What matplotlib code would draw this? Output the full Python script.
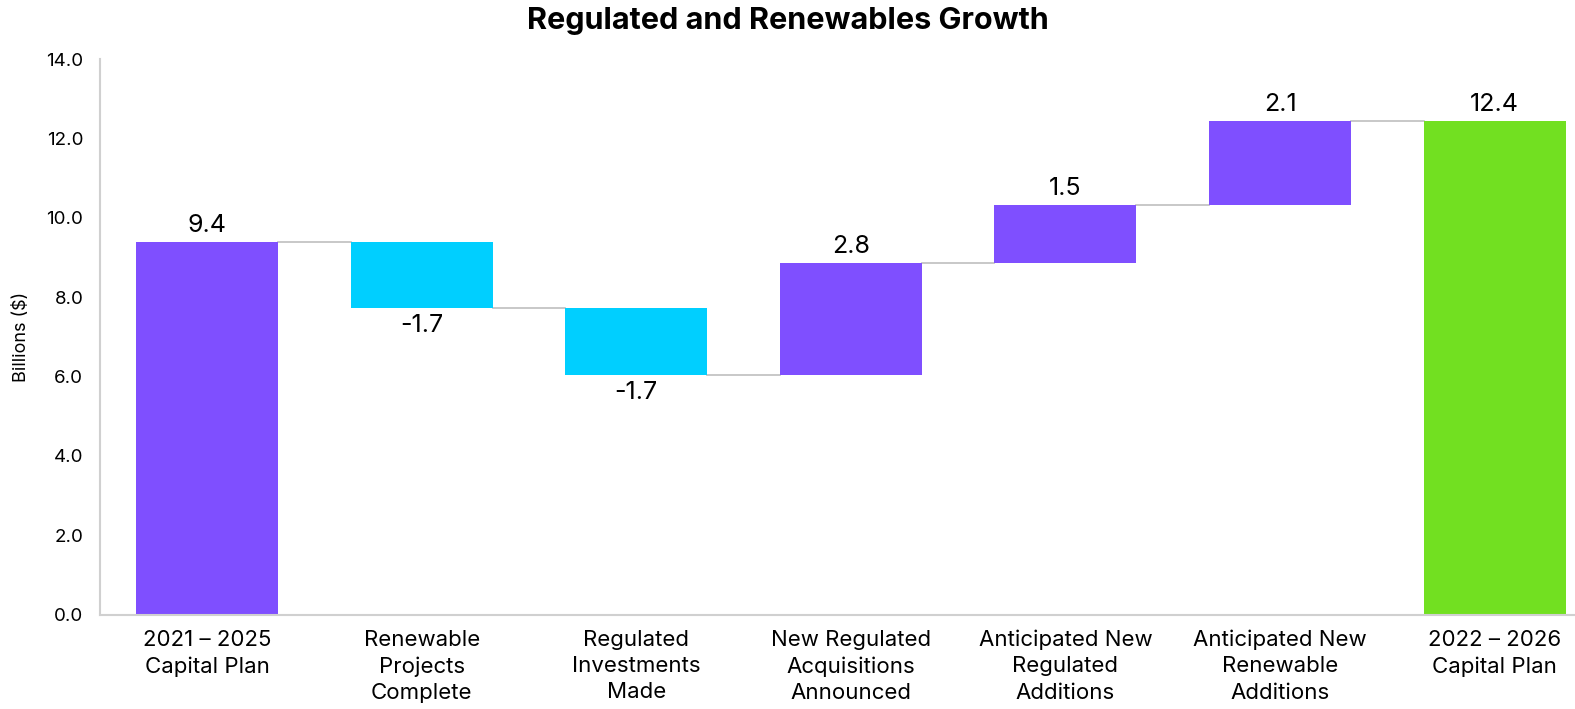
import matplotlib
matplotlib.use("Agg")
import matplotlib.pyplot as plt
import numpy as np

categories = ["2021 – 2025\nCapital Plan", "Renewable\nProjects\nComplete",
              "Regulated\nInvestments\nMade", "New Regulated\nAcquisitions\nAnnounced",
              "Anticipated New\nRegulated\nAdditions", "Anticipated New\nRenewable\nAdditions",
              "2022 – 2026\nCapital Plan"]
changes = [9.4, -1.68, -1.69, 2.83, 1.47, 2.11]
total = 12.44
bar_colors = ["#7f4fff", "#00cfff", "#00cfff", "#7f4fff", "#7f4fff", "#7f4fff", "#72e021"]

plt.rcParams['font.family'] = ['Inter', 'DejaVu Sans']

fig = plt.figure(figsize=(15.75, 7.09), dpi=100)
ax = fig.add_axes([100 / 1575, 94.4 / 709, 1475 / 1575, 555.3 / 709])

# waterfall bottoms/heights
bottoms, heights = [], []
running = 0.0
for i, c in enumerate(changes):
    if i == 0:
        bottoms.append(0.0)
        heights.append(c)
        running = c
    else:
        bottoms.append(min(running, running + c))
        heights.append(abs(c))
        running += c
bottoms.append(0.0)
heights.append(total)
tops = [b + h for b, h in zip(bottoms, heights)]
levels = list(np.cumsum(changes)) + [total]

x = np.arange(len(categories))
w = 0.662
ax.bar(x, heights, bottom=bottoms, width=w, color=bar_colors, zorder=2)

# connectors
for i in range(len(categories) - 1):
    ax.plot([x[i] + w / 2, x[i + 1] - w / 2], [levels[i], levels[i]],
            color="#bfbfbf", lw=1.2, zorder=1)

# labels
vals = changes + [total]
for i, v in enumerate(vals):
    if v >= 0:
        ax.text(x[i], tops[i] + 0.12, f"{v:.1f}", ha="center", va="bottom", fontsize=18)
    else:
        ax.text(x[i], bottoms[i] - 0.15, f"{v:.1f}", ha="center", va="top", fontsize=18)

ax.set_xlim(-0.5, 6.375)
ax.set_ylim(0, 14)
ax.set_yticks(np.arange(0, 14.1, 2))
ax.set_yticklabels([f"{t:.1f}" for t in np.arange(0, 14.1, 2)], fontsize=13.5)
ax.set_xticks(x)
ax.set_xticklabels(categories, fontsize=16, linespacing=1.38)
ax.tick_params(axis="both", length=0)
ax.tick_params(axis="y", pad=12)
ax.tick_params(axis="x", pad=11)
ax.set_ylabel("Billions ($)", fontsize=13, labelpad=12)

for s in ["top", "right"]:
    ax.spines[s].set_visible(False)
for s in ["left", "bottom"]:
    ax.spines[s].set_color("#d0d0d0")
    ax.spines[s].set_linewidth(1.5)

fig.suptitle("Regulated and Renewables Growth", fontsize=22, fontweight="bold", y=0.99)

fig.savefig("out.png", dpi=100)
